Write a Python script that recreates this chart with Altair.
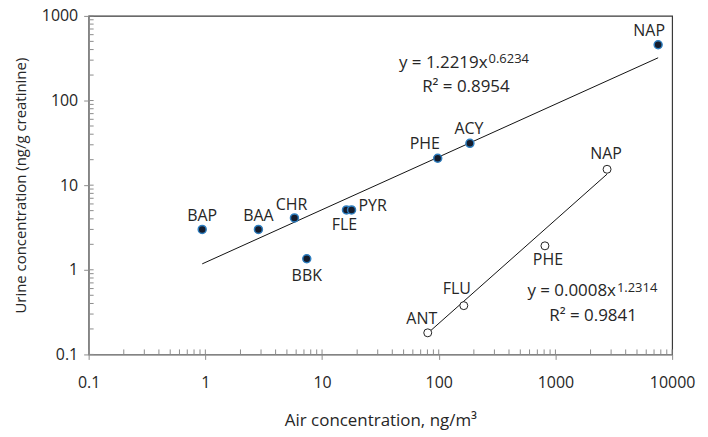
import altair as alt
import pandas as pd

# ---- data ----
filled_names = ["BAP", "BAA", "CHR", "BBK", "FLE", "PYR", "PHE", "ACY", "NAP"]
filled_air = [0.94, 2.85, 5.8, 7.4, 16.2, 17.9, 98, 185, 7590]
filled_urine = [3.0, 3.0, 4.1, 1.35, 5.1, 5.1, 20.8, 31.2, 456]

open_names = ["NAP", "PHE", "FLU", "ANT"]
open_air = [2770, 813, 164, 80.5]
open_urine = [15.4, 1.92, 0.377, 0.18]

# trend line end points (as drawn)
trend1_air = [0.94, 7590]
trend1_urine = [1.175, 320]
trend2_air = [80.5, 2770]
trend2_urine = [0.178, 13.5]

x_major = [0.1, 1, 10, 100, 1000, 10000]
y_major = [0.1, 1, 10, 100, 1000]
x_minor = [round(m * d, 4) for d in [0.1, 1, 10, 100, 1000] for m in range(1, 10)] + [10000]
y_minor = [round(m * d, 4) for d in [0.1, 1, 10, 100] for m in range(1, 10)] + [1000]

FONT = "Open Sans"
TXT = "#262626"
AXC = "#8c8c8c"
W, H = 586, 340

filled = pd.DataFrame({"name": filled_names, "air": filled_air, "urine": filled_urine})
opened = pd.DataFrame({"name": open_names, "air": open_air, "urine": open_urine})
t1 = pd.DataFrame({"air": trend1_air, "urine": trend1_urine})
t2 = pd.DataFrame({"air": trend2_air, "urine": trend2_urine})
xm = pd.DataFrame({"air": x_minor})
ym = pd.DataFrame({"urine": y_minor})

xs = alt.Scale(type="log", domain=[0.1, 10000], nice=False)
ys = alt.Scale(type="log", domain=[0.1, 1000], nice=False)

x_axis_major = alt.Axis(values=x_major, format="~g", tickSize=5, labelPadding=15,
                        labelFlush=False, labelOverlap=False,
                        title="Air concentration, ng/m³", titlePadding=22, titleFontSize=17,
                        grid=False, orient="bottom")
y_axis_major = alt.Axis(values=y_major, format="~g", tickSize=5, labelPadding=6,
                        labelFlush=False, labelOverlap=False,
                        title="Urine concentration (ng/g creatinine)", titlePadding=13,
                        titleFontSize=15, grid=False, orient="left")

line1 = alt.Chart(t1).mark_line(color="#111", strokeWidth=1).encode(
    x=alt.X("air:Q", scale=xs, axis=None),
    y=alt.Y("urine:Q", scale=ys, axis=None),
)
line2 = alt.Chart(t2).mark_line(color="#111", strokeWidth=1).encode(
    x=alt.X("air:Q", scale=xs, axis=None),
    y=alt.Y("urine:Q", scale=ys, axis=None),
)

# minor ticks (inside the plot, along the axes)
x_minor_ticks = alt.Chart(xm).mark_rule(color=AXC, strokeWidth=1).encode(
    x=alt.X("air:Q", scale=xs, axis=None),
    y=alt.value(H - 5), y2=alt.value(H),
)
y_minor_ticks = alt.Chart(ym).mark_rule(color=AXC, strokeWidth=1).encode(
    y=alt.Y("urine:Q", scale=ys, axis=None),
    x=alt.value(0), x2=alt.value(5),
)

pts_filled = alt.Chart(filled).mark_point(
    filled=True, shape="circle", size=64, fill="#151c2c", stroke="#2f7fc0",
    strokeWidth=1.5, opacity=1
).encode(
    x=alt.X("air:Q", scale=xs, axis=x_axis_major),
    y=alt.Y("urine:Q", scale=ys, axis=y_axis_major),
)
pts_open = alt.Chart(opened).mark_point(
    shape="circle", size=64, fill="white", stroke="#222", strokeWidth=1, filled=False,
    fillOpacity=1, opacity=1
).encode(
    x=alt.X("air:Q", scale=xs, axis=None),
    y=alt.Y("urine:Q", scale=ys, axis=None),
)

# label offsets (dx, dy, align) per point
filled_off = [(0, -13, "center"), (0, -13, "center"), (-3, -13, "center"),
              (0, 17, "center"), (-2, 15, "center"), (7, -4, "left"),
              (-13, -14, "center"), (-1, -14, "center"), (-9, -14, "center")]
open_off = [(-1, -15, "center"), (3, 14, "center"), (-7, -17, "center"), (-6, -14, "center")]

labels = []
for df, offs in [(filled, filled_off), (opened, open_off)]:
    for i, (dx, dy, al) in enumerate(offs):
        labels.append(
            alt.Chart(df.iloc[[i]]).mark_text(
                dx=dx, dy=dy, align=al, baseline="middle", font=FONT, fontSize=16, color=TXT
            ).encode(
                x=alt.X("air:Q", scale=xs, axis=None),
                y=alt.Y("urine:Q", scale=ys, axis=None),
                text="name:N",
            )
        )

# equation annotations (anchored in data space)
eq_main = pd.DataFrame({"air": [262, 3300], "urine": [276, 0.556],
                        "t": ["y = 1.2219x", "y = 0.0008x"]})
eq_sup = pd.DataFrame({"air": [262, 3300], "urine": [306, 0.605],
                       "t": ["0.6234", "1.2314"]})
eq_r2 = pd.DataFrame({"air": [171, 2100], "urine": [146, 0.288],
                      "t": ["R² = 0.8954", "R² = 0.9841"]})

def txt(df, align, size, dx=0):
    return alt.Chart(df).mark_text(
        align=align, baseline="middle", font=FONT, fontSize=size, color=TXT, dx=dx
    ).encode(
        x=alt.X("air:Q", scale=xs, axis=None),
        y=alt.Y("urine:Q", scale=ys, axis=None),
        text="t:N",
    )

chart = alt.layer(
    line1, line2, x_minor_ticks, y_minor_ticks, pts_filled, pts_open, *labels,
    txt(eq_main, "right", 17), txt(eq_sup, "left", 13, 1), txt(eq_r2, "center", 17),
).resolve_axis(x="independent", y="independent").properties(
    width=W, height=H,
    padding={"left": 81, "top": 7, "right": 28, "bottom": 82},
    autosize=alt.AutoSizeParams(type="none"),
).configure_view(stroke="#3a3a3a", strokeWidth=1.2).configure_axis(
    domainColor=AXC, tickColor=AXC, labelFont=FONT, titleFont=FONT,
    labelFontSize=16, labelColor=TXT, titleColor=TXT,
    titleFontWeight="normal", domainWidth=1.2, tickWidth=1,
)

chart.save("out.html", embed_options={"renderer": "svg", "actions": False})
